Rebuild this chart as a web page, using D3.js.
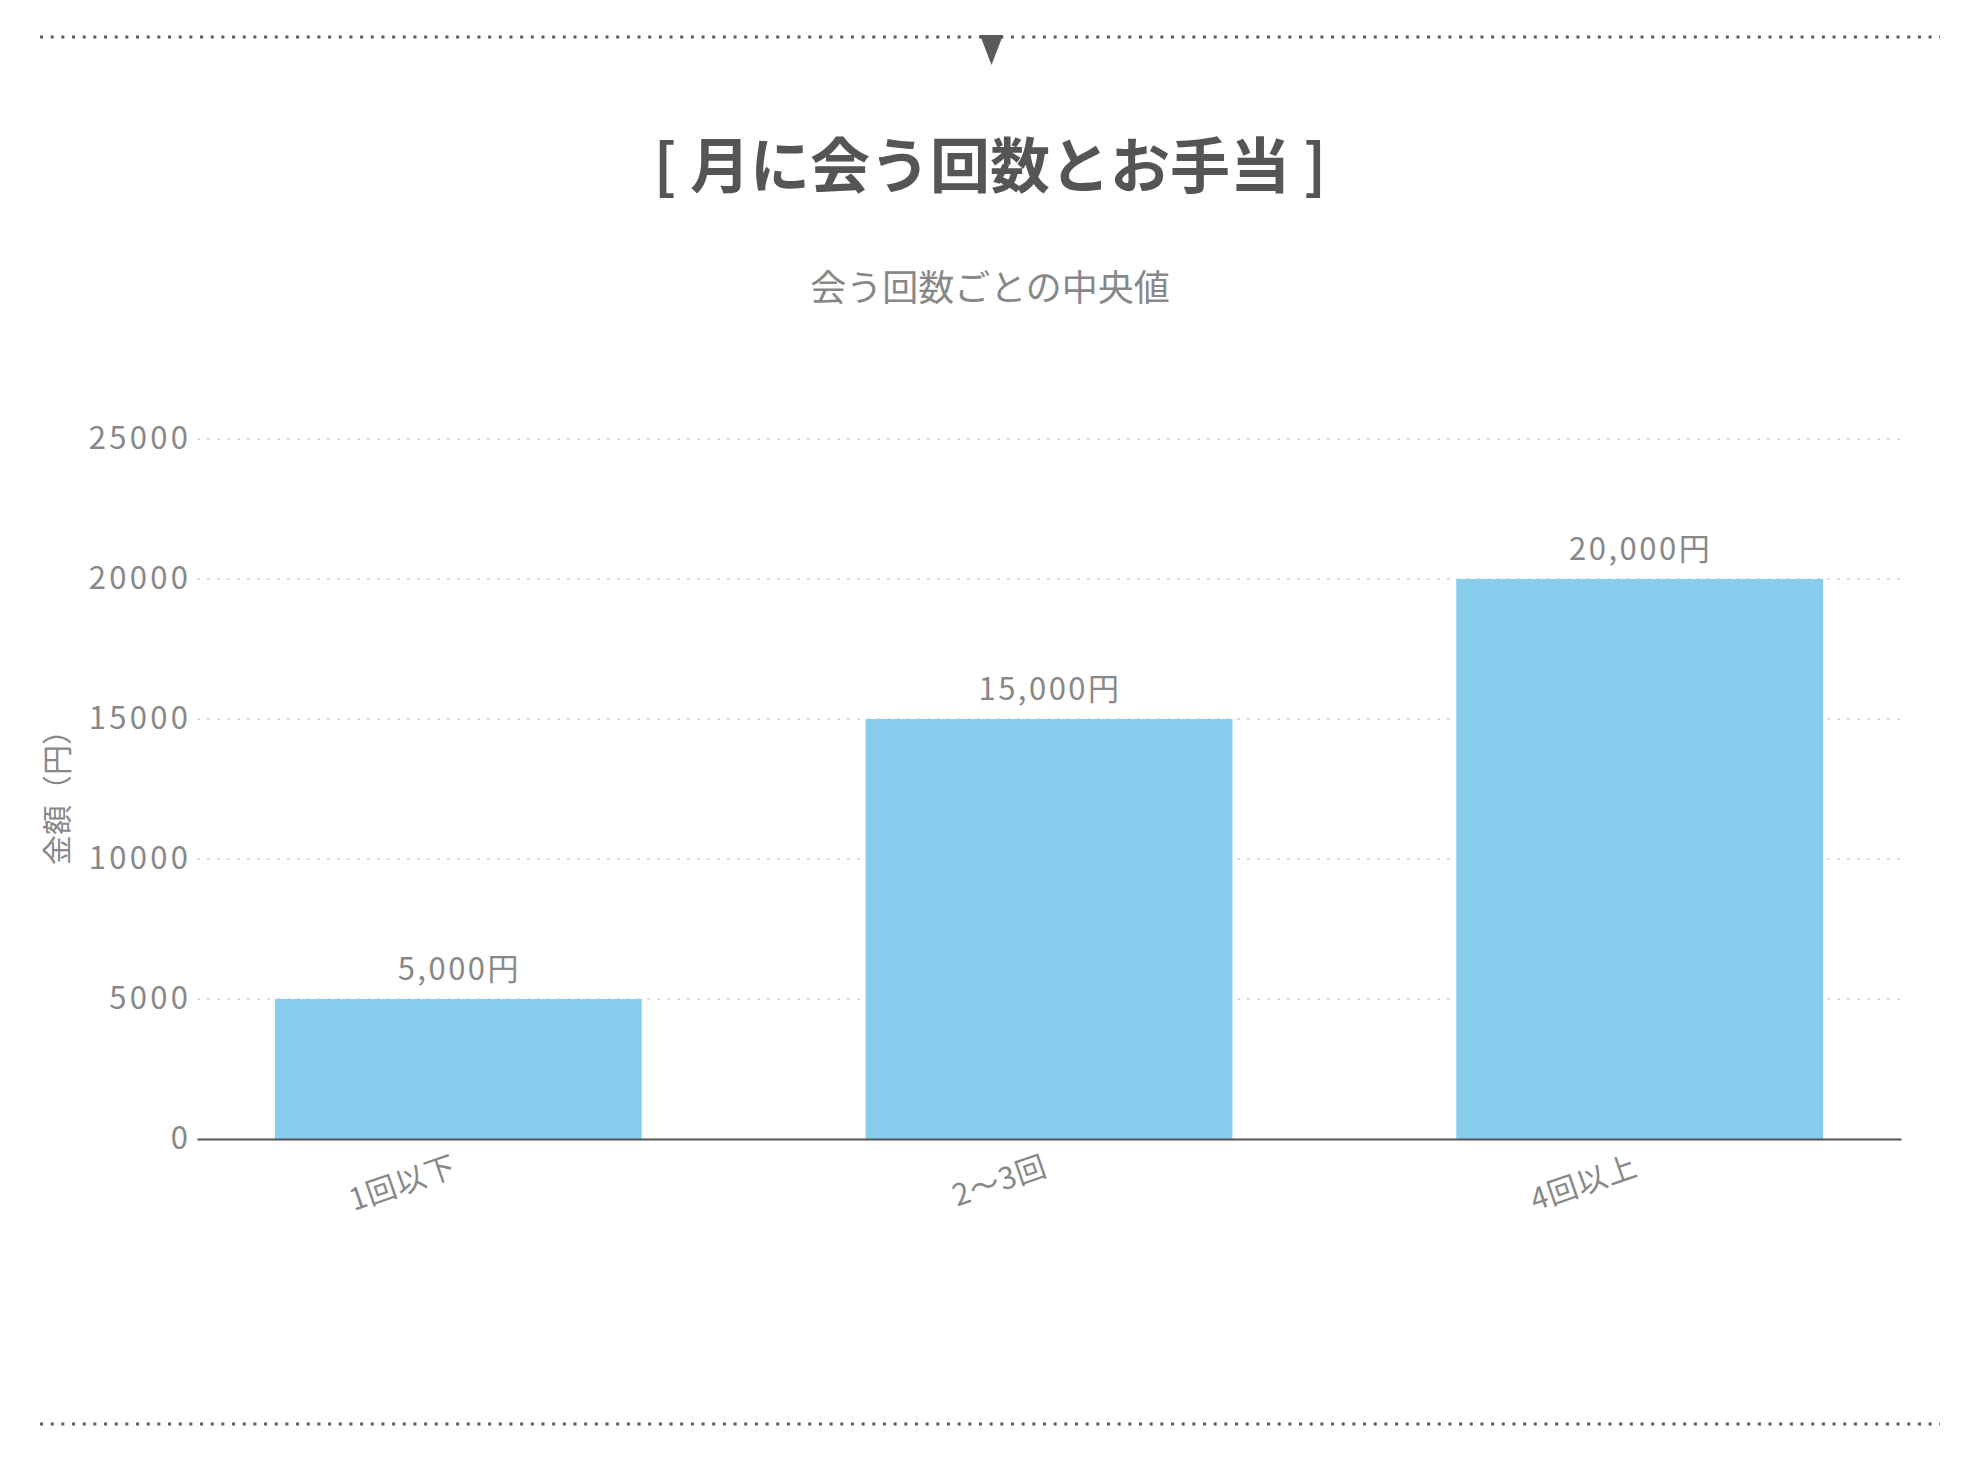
<!DOCTYPE html>
<html lang="ja">
<head>
<meta charset="utf-8">
<script src="https://cdn.jsdelivr.net/npm/d3@7"></script>
<style>
  html, body { margin: 0; padding: 0; background: #fff; }
  svg { display: block; font-family: "Noto Sans CJK JP", "Noto Sans", sans-serif; }
</style>
</head>
<body>
<svg id="chart" width="1980" height="1460"></svg>
<script>
const titleText = "[ 月に会う回数とお手当 ]";
const subtitleText = "会う回数ごとの中央値";
const yAxisTitle = "金額（円）";
const categories = ["1回以下", "2〜3回", "4回以上"];
const values = [5000, 15000, 20000];
const yTicks = [0, 5000, 10000, 15000, 20000, 25000];
const yMax = 25000;

const svg = d3.select("#chart");
const W = 1980;
const plot = { left: 197, right: 1901, top: 439, bottom: 1139 };

const x = d3.scaleBand().domain(categories)
  .range([plot.left, plot.right]).paddingInner(0.379).paddingOuter(0.132);
const y = d3.scaleLinear().domain([0, yMax]).range([plot.bottom, plot.top]);

// decorative dotted rules
[37, 1424].forEach(yy => {
  svg.append("line").attr("x1", 40).attr("x2", 1940).attr("y1", yy).attr("y2", yy)
    .attr("stroke", "#5a5a5a").attr("stroke-width", 3).attr("stroke-dasharray", "3,7.67");
});
svg.append("path").attr("d", "M980,35 L1003,35 L991.5,65 Z").attr("fill", "#5a5a5a");

// titles
svg.append("text").attr("x", W / 2).attr("y", 188).attr("text-anchor", "middle")
  .attr("font-size", 60).attr("font-weight", 700).attr("fill", "#555").text(titleText);
svg.append("text").attr("x", W / 2).attr("y", 301).attr("text-anchor", "middle")
  .attr("font-size", 36).attr("fill", "#888").text(subtitleText);

// gridlines
svg.append("g").selectAll("line").data(yTicks.filter(d => d > 0)).join("line")
  .attr("x1", plot.left).attr("x2", plot.right)
  .attr("y1", d => y(d)).attr("y2", d => y(d))
  .attr("stroke", "#dcdcdc").attr("stroke-width", 2).attr("stroke-dasharray", "3,7");

// y axis labels via d3 axis
const yAxis = d3.axisLeft(y).tickValues(yTicks).tickSize(0).tickPadding(9).tickFormat(d3.format("d"));
const gy = svg.append("g").attr("transform", `translate(${plot.left},0)`).call(yAxis);
gy.select(".domain").remove();
gy.selectAll("text").attr("font-size", 31).attr("fill", "#888")
  .attr("letter-spacing", 3.3).attr("dx", 3.3)
  .attr("font-family", "\"Noto Sans CJK JP\", sans-serif");

svg.append("text").attr("transform", "translate(68,790) rotate(-90)")
  .attr("text-anchor", "middle").attr("font-size", 30).attr("fill", "#888").text(yAxisTitle);

// bars
svg.append("g").selectAll("rect").data(values).join("rect")
  .attr("x", (d, i) => x(categories[i])).attr("width", x.bandwidth())
  .attr("y", d => y(d)).attr("height", d => y(0) - y(d))
  .attr("fill", "#88ccee");

// value labels
svg.append("g").selectAll("text").data(values).join("text")
  .attr("x", (d, i) => x(categories[i]) + x.bandwidth() / 2 + 1)
  .attr("y", d => y(d) - 19).attr("text-anchor", "middle")
  .attr("font-size", 31).attr("fill", "#888").attr("letter-spacing", 2.5)
  .text(d => d3.format(",")(d) + "円");

// x axis
const xAxis = d3.axisBottom(x).tickSize(0).tickPadding(0);
const gx = svg.append("g").attr("transform", `translate(0,${plot.bottom})`).call(xAxis);
gx.select(".domain").attr("stroke", "#555").attr("stroke-width", 2);
gx.selectAll("text")
  .attr("font-size", 30).attr("fill", "#888").attr("letter-spacing", 1)
  .attr("font-family", "\"Noto Sans CJK JP\", sans-serif")
  .attr("text-anchor", "end").attr("dy", null).attr("y", null)
  .attr("transform", "translate(0,36) rotate(-19)");
</script>
</body>
</html>
